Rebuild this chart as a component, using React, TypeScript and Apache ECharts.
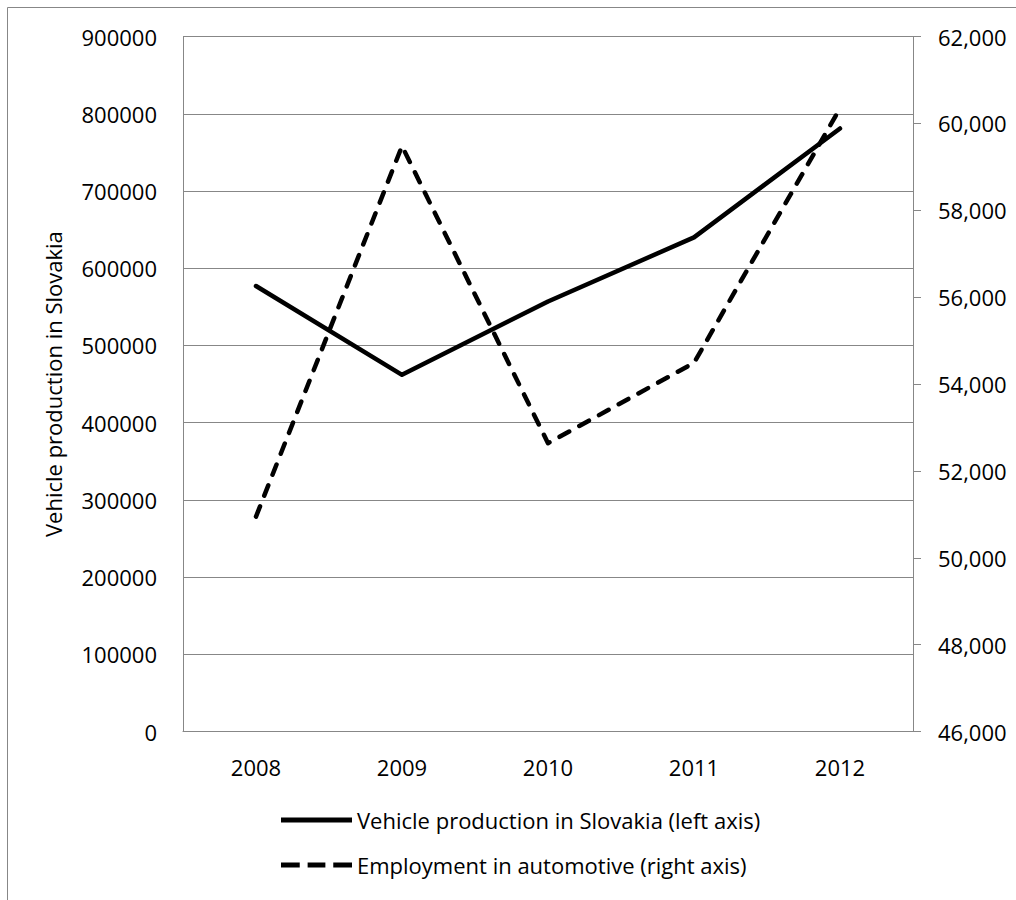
import React, { useEffect, useRef } from "react";
import * as echarts from "echarts";

// Years on the category axis
const years = ["2008", "2009", "2010", "2011", "2012"];
// Vehicles produced in Slovakia (left axis)
const vehicleProduction = [577000, 462000, 557000, 640000, 781000];
// Persons employed in the automotive industry (right axis)
const automotiveEmployment = [50950, 59480, 52640, 54490, 60350];

const FONT = "'Open Sans', 'Noto Sans', sans-serif";
const GREY = "#878787";

// Legend keys: a solid bar and a three-dash bar
const SOLID_KEY = "path://M0,0h72v5h-72z";
const DASHED_KEY = "path://M0,0h19v5h-19z M27,0h18v5h-18z M53,0h19v5h-19z";

export default function App() {
  const ref = useRef<HTMLDivElement>(null);

  useEffect(() => {
    if (!ref.current) return;
    const chart = echarts.init(ref.current, null, { renderer: "svg" });
    chart.setOption({
      animation: false,
      backgroundColor: "#ffffff",
      textStyle: { fontFamily: FONT, color: "#000" },
      grid: { left: 183, right: 103, top: 36.6, bottom: 168.4 },
      graphic: [
        {
          type: "rect",
          z: -1,
          shape: { x: 7.5, y: 7.5, width: 1100, height: 1000 },
          style: { fill: "none", stroke: GREY, lineWidth: 1 },
        },
      ],
      legend: {
        orient: "vertical",
        left: 276,
        top: 804,
        itemWidth: 71,
        itemHeight: 5,
        itemGap: 23,
        textStyle: { fontFamily: FONT, fontSize: 22, color: "#000" },
        data: [
          { name: "Vehicle production in Slovakia (left axis)", icon: SOLID_KEY },
          { name: "Employment in automotive (right axis)", icon: DASHED_KEY },
        ],
      },
      xAxis: {
        type: "category",
        data: years,
        boundaryGap: true,
        axisLine: { lineStyle: { color: GREY, width: 1 } },
        axisTick: { show: false },
        axisLabel: { fontFamily: FONT, fontSize: 22, color: "#000", margin: 24 },
      },
      yAxis: [
        {
          type: "value",
          min: 0,
          max: 900000,
          interval: 100000,
          name: "Vehicle production in Slovakia",
          nameLocation: "middle",
          nameRotate: 90,
          nameGap: 119,
          nameTextStyle: { fontFamily: FONT, fontSize: 22, color: "#000" },
          axisLine: { show: true, lineStyle: { color: GREY, width: 1 } },
          axisTick: { show: false },
          axisLabel: {
            fontFamily: FONT,
            fontSize: 22,
            color: "#000",
            margin: 26,
            formatter: (v: number) => String(v),
          },
          splitLine: { show: true, lineStyle: { color: GREY, width: 1 } },
        },
        {
          type: "value",
          min: 46000,
          max: 62000,
          interval: 2000,
          position: "right",
          axisLine: { show: true, lineStyle: { color: GREY, width: 1 } },
          axisTick: { show: true, length: 8, inside: false, lineStyle: { color: GREY, width: 1 } },
          axisLabel: {
            fontFamily: FONT,
            fontSize: 22,
            color: "#000",
            margin: 25,
            formatter: (v: number) => v.toLocaleString("en-US"),
          },
          splitLine: { show: false },
        },
      ],
      series: [
        {
          name: "Vehicle production in Slovakia (left axis)",
          type: "line",
          yAxisIndex: 0,
          data: vehicleProduction,
          symbol: "none",
          lineStyle: { color: "#000", width: 4.5, cap: "round", join: "round" },
          itemStyle: { color: "#000" },
        },
        {
          name: "Employment in automotive (right axis)",
          type: "line",
          yAxisIndex: 1,
          data: automotiveEmployment,
          symbol: "none",
          lineStyle: { color: "#000", width: 4.5, type: [11, 11.5], cap: "round", join: "round" },
          itemStyle: { color: "#000" },
        },
      ],
    });
    return () => chart.dispose();
  }, []);

  return (
    <div
      ref={ref}
      style={{ position: "absolute", left: 0, top: 0, width: 1016, height: 900 }}
    />
  );
}
